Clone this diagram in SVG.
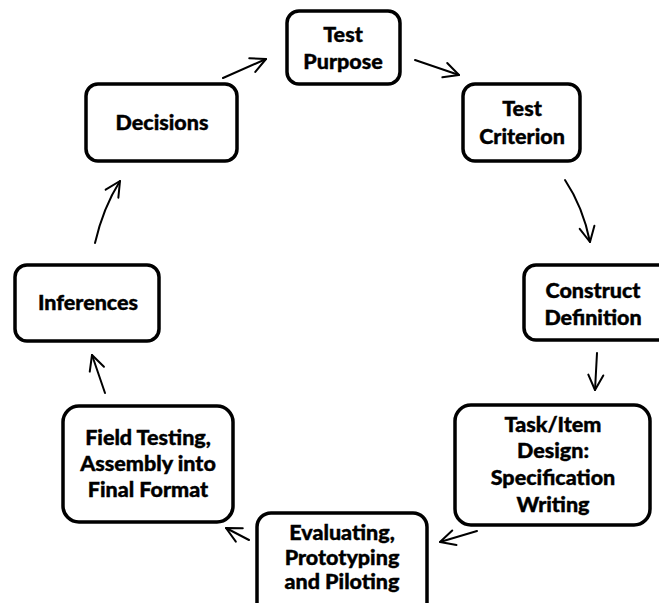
<svg xmlns="http://www.w3.org/2000/svg" width="659" height="603" viewBox="0 0 659 603">
<defs>
<style>
.box{fill:#fff;stroke:#000;stroke-width:3.5}
.t{font-family:Lato,"Liberation Sans",sans-serif;font-weight:900;font-size:21.5px;fill:#000;stroke:#000;stroke-width:0.4;text-anchor:middle}
.c{fill:none;stroke:#000;stroke-width:2;stroke-linecap:round}
</style>
<marker id="ah" markerUnits="userSpaceOnUse" markerWidth="30" markerHeight="30" refX="0" refY="0" viewBox="-20 -15 30 30" orient="auto">
<path d="M -15 -7.5 L 0 0 L -15 7.5" fill="none" stroke="#000" stroke-width="2" stroke-linecap="round" stroke-linejoin="round"/>
</marker>
</defs>
<rect width="659" height="603" fill="#fff"/>
<g id="connectors">
<path class="c" d="M 415 60 L 459 75" marker-end="url(#ah)"/>
<path class="c" d="M 565 180 Q 583 207 590 242" marker-end="url(#ah)"/>
<path class="c" d="M 597 353 L 595 390" marker-end="url(#ah)"/>
<path class="c" d="M 477 531 L 440 542" marker-end="url(#ah)"/>
<path class="c" d="M 249 540 L 226 528" marker-end="url(#ah)"/>
<path class="c" d="M 105 393 L 92 355" marker-end="url(#ah)"/>
<path class="c" d="M 95 243 Q 103 208 120 181" marker-end="url(#ah)"/>
<path class="c" d="M 223 78 L 266 59" marker-end="url(#ah)"/>
</g>
<g id="test-purpose">
<rect class="box" x="287" y="11" width="113" height="73" rx="12"/>
<text class="t" x="343" y="42">Test</text>
<text class="t" x="343" y="69">Purpose</text>
</g>
<g id="test-criterion">
<rect class="box" x="463" y="84" width="117" height="77" rx="12"/>
<text class="t" x="522" y="116">Test</text>
<text class="t" x="522" y="144">Criterion</text>
</g>
<g id="construct-definition">
<rect class="box" x="524" y="265" width="150" height="75" rx="12"/>
<text class="t" x="593" y="298">Construct</text>
<text class="t" x="593" y="325">Definition</text>
</g>
<g id="task-item-design">
<rect class="box" x="455" y="405" width="195" height="120" rx="16"/>
<text class="t" x="553" y="432">Task/Item</text>
<text class="t" x="553" y="458">Design:</text>
<text class="t" x="553" y="485">Specification</text>
<text class="t" x="553" y="512">Writing</text>
</g>
<g id="evaluating">
<rect class="box" x="257" y="513" width="170" height="105" rx="14"/>
<text class="t" x="342" y="540">Evaluating,</text>
<text class="t" x="342" y="565">Prototyping</text>
<text class="t" x="342" y="589">and Piloting</text>
</g>
<g id="field-testing">
<rect class="box" x="63" y="406" width="170" height="116" rx="16"/>
<text class="t" x="148" y="445">Field Testing,</text>
<text class="t" x="148" y="471">Assembly into</text>
<text class="t" x="148" y="497">Final Format</text>
</g>
<g id="inferences">
<rect class="box" x="15" y="265" width="144" height="76" rx="12"/>
<text class="t" x="88" y="310">Inferences</text>
</g>
<g id="decisions">
<rect class="box" x="86" y="84" width="151" height="77" rx="12"/>
<text class="t" x="162" y="130">Decisions</text>
</g>
</svg>
